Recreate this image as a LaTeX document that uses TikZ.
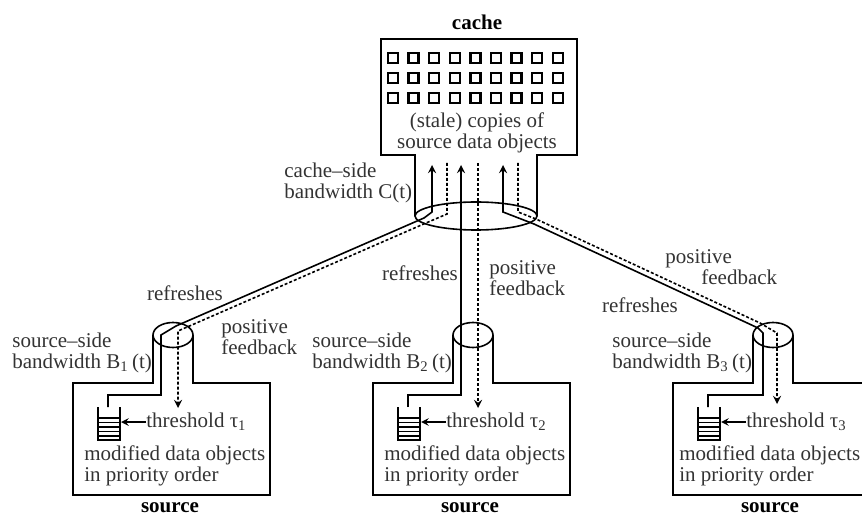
\documentclass[tikz,border=0pt]{standalone}
\usepackage{fontspec}
\setmainfont{Liberation Serif}
\usetikzlibrary{arrows,shapes.geometric,positioning}

\begin{document}
\begin{tikzpicture}[
    x=0.5pt, y=-0.5pt,
    lbl/.style={inner sep=0pt, align=left, text=black!80, font=\fontsize{10.5}{10.5}\selectfont},
    title/.style={inner sep=0pt, font=\fontsize{10.5}{10.5}\selectfont\bfseries},
    wall/.style={line width=0.8pt},
    pipe/.style={ellipse, draw, line width=0.8pt, inner sep=0pt, minimum width=20pt, minimum height=12.5pt},
    refresh/.style={line width=0.8pt, ->, >=stealth},
    feedback/.style={line width=0.8pt, dash pattern=on 1.5pt off 1pt, ->, >=stealth},
    slot/.style={line width=1.2pt}
]
\useasboundingbox (0,0) rectangle (862,518);

% Cache
\node (cachetitle) [title] at (477,22) {cache};
\draw [wall] (415,216) -- (415,155) -- (381,155) -- (381,39) -- (577,39) -- (577,155) -- (537,155) -- (537,216);
\foreach \r in {0,1,2}
  \foreach \c in {0,...,8}
    \draw [slot] ({393+20.6*\c-5},{58+20*\r-5}) rectangle ++(10,10);
\node (copies) [lbl, align=center] at (477,133) {(stale) copies of\\source data objects};
\node (cachepipe) [pipe, minimum width=61pt, minimum height=14pt] at (476,216) {};
\node (cachebw) [lbl, anchor=west] at (284,183) {cache--side\\bandwidth C(t)};

% Sources
\foreach \i/\bx/\mx in {1/73/84, 2/373/384, 3/673/679} {
  \draw [wall] (\bx+80,335) -- (\bx+80,383) -- (\bx,383) -- (\bx,495) -- (\bx+197,495) -- (\bx+197,383) -- (\bx+120,383) -- (\bx+120,335);
  \node (pipe\i) [pipe] at (\bx+100,335) {};
  \node (bw\i) [lbl, anchor=west] at (\bx-61,353) {source--side\\bandwidth B\textsubscript{\i}\,(t)};
  % queue
  \draw [wall] (\bx+25,407) -- (\bx+25,440) -- (\bx+47,440) -- (\bx+47,407);
  \foreach \k in {0,...,4}
    \draw [wall] (\bx+25,{418+4.5*\k}) -- (\bx+47,{418+4.5*\k});
  \coordinate (queue\i) at (\bx+48,422);
  \node (thr\i) [lbl, anchor=west] at (\bx+73,422) {threshold τ\textsubscript{\i}};
  \draw [->, >=stealth, line width=0.7pt] (thr\i.west) -- (queue\i);
  \node (mod\i) [lbl, anchor=west] at (\mx,466) {modified data objects\\in priority order};
  \node (src\i) [title] at (\bx+97,508) {source};
}

% Labels
\node (ref1) [lbl] at (185,293) {refreshes};
\node (fb1) [lbl, anchor=west] at (221,337) {positive\\feedback};
\node (ref2) [lbl] at (420,273) {refreshes};
\node (fb2) [lbl, anchor=west] at (489,278) {positive\\feedback};
\node (ref3) [lbl] at (640,305) {refreshes};
\node (fb3) [lbl, anchor=west] at (665,267) {positive\\\hspace*{18pt}feedback};

% Refreshes
\draw [refresh] (108,407) -- (108,395) -- (161,395) -- (161,335) -- (176,326) -- (424,218) -- (432,212) -- (432,165);
\draw [refresh] (408,407) -- (408,395) -- (461,395) -- (461,165);
\draw [refresh] (708,407) -- (708,395) -- (763,395) -- (763,333) -- (758,328) -- (534,224) -- (503,212) -- (503,165);

% Positive feedback
\draw [feedback] (447,163) -- (447,214) -- (426,223) -- (178,331) -- (178,408);
\draw [feedback] (478,163) -- (478,408);
\draw [feedback] (518,163) -- (518,212) -- (536,219) -- (760,323) -- (777,333) -- (777,404);

\end{tikzpicture}
\end{document}
